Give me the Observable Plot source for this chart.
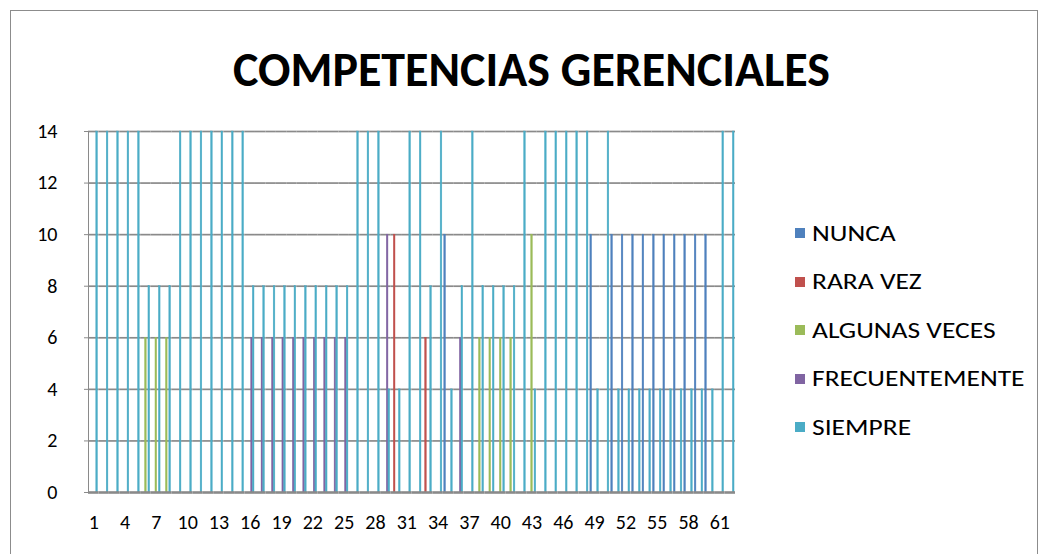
<!DOCTYPE html>
<html>
<head>
<meta charset="utf-8">
<script src="https://cdn.jsdelivr.net/npm/d3@7"></script>
<script src="https://cdn.jsdelivr.net/npm/@observablehq/plot@0.6"></script>
<style>
  html, body { margin: 0; padding: 0; background: #fff; }
  #wrap { position: relative; width: 1040px; height: 554px; overflow: hidden; font-family: Calibri, Carlito, Lato, sans-serif; }
  #border { position: absolute; left: 10px; top: 10px; width: 1026px; height: 600px; border: 1px solid #8c8c8c; }
  #title { position: absolute; left: 233px; top: 46px; font-weight: bold; font-size: 40px; white-space: nowrap; color: #000; line-height: 1; }
  #chart { position: absolute; left: 0; top: 0; }
  #chart svg text { fill: #000; }
  #legend { position: absolute; left: 795px; top: 0; font-size: 22px; color: #000; }
  .item { position: absolute; left: 0; white-space: nowrap; display: flex; align-items: center; height: 24px; }
  .sw { width: 10px; height: 10px; margin-right: 7px; flex: none; }
  .tx { display: inline-block; transform: scaleX(1.25); transform-origin: 0 50%; }
</style>
</head>
<body>
<div id="wrap">
  <div id="border"></div>
  <div id="chart"></div>
  <div id="title">COMPETENCIAS GERENCIALES</div>
  <div id="legend"></div>
</div>
<script>
const categories = [1,2,3,4,5,6,7,8,9,10,11,12,13,14,15,16,17,18,19,20,21,22,23,24,25,26,27,28,29,30,31,32,33,34,35,36,37,38,39,40,41,42,43,44,45,46,47,48,49,50,51,52,53,54,55,56,57,58,59,60,61,62];
const series = ["NUNCA", "RARA VEZ", "ALGUNAS VECES", "FRECUENTEMENTE", "SIEMPRE"];
const colors = ["#4F81BD", "#C0504D", "#9BBB59", "#8064A2", "#4BACC6"];
const xTickLabels = [1,4,7,10,13,16,19,22,25,28,31,34,37,40,43,46,49,52,55,58,61];
const yTicks = [0,2,4,6,8,10,12,14];

const nunca = [
  0,0,0,0,0,0,0,0,0,0,
  0,0,0,0,0,0,0,0,0,0,
  0,0,0,0,0,0,0,0,0,0,
  0,0,0,0,10,0,0,0,0,0,
  0,0,0,0,0,0,0,0,10,0,
  10,10,10,10,10,10,10,10,10,10,
  0,0];
const raraVez = [
  0,0,0,0,0,0,0,0,0,0,
  0,0,0,0,0,0,0,0,0,0,
  0,0,0,0,0,0,0,0,0,10,
  0,0,6,0,0,0,0,0,0,0,
  0,0,0,0,0,0,0,0,0,0,
  0,0,0,0,0,0,0,0,0,0,
  0,0];
const algunasVeces = [
  0,0,0,0,0,6,6,6,0,0,
  0,0,0,0,0,0,0,0,0,0,
  0,0,0,0,0,0,0,0,0,0,
  0,0,0,0,0,0,0,6,6,6,
  6,0,10,0,0,0,0,0,0,0,
  0,0,0,0,0,0,0,0,0,0,
  0,0];
const frecuentemente = [
  0,0,0,0,0,0,0,0,0,0,
  0,0,0,0,0,6,6,6,6,6,
  6,6,6,6,6,0,0,0,10,0,
  0,0,0,0,0,6,0,0,0,0,
  0,0,0,0,0,0,0,0,0,0,
  0,0,0,0,0,0,0,0,0,0,
  0,0];
const siempre = [
  14,14,14,14,14,8,8,8,14,14,
  14,14,14,14,14,8,8,8,8,8,
  8,8,8,8,8,14,14,14,4,4,
  14,14,8,14,4,8,14,8,8,8,
  8,14,4,14,14,14,14,14,4,14,
  4,4,4,4,4,4,4,4,4,4,
  14,14];

const values = [nunca, raraVez, algunasVeces, frecuentemente, siempre];
const data = categories.flatMap((c, i) => series.map((s, j) => ({cat: c, serie: s, value: values[j][i]})))
  .filter(d => d.value > 0);

const chart = Plot.plot({
  width: 1040,
  height: 554,
  marginLeft: 88,
  marginRight: 305,
  marginTop: 131,
  marginBottom: 62,
  style: {fontFamily: "Calibri, Carlito, Lato, sans-serif", fontSize: "20px", color: "#8a8a8a", background: "transparent", overflow: "visible"},
  fx: {domain: categories, padding: 0, round: false, label: null, tickSize: 0, tickPadding: 22,
       tickFormat: d => xTickLabels.includes(d) ? String(d) : ""},
  x: {domain: series, paddingInner: 0, paddingOuter: 0.57, round: false, axis: null},
  y: {domain: [0, 14], ticks: yTicks, label: null, tickSize: 4, tickPadding: 27, line: true},
  color: {domain: series, range: colors},
  marks: [
    Plot.ruleY(yTicks.filter(t => t > 0), {y: d => d, stroke: "#8a8a8a", strokeWidth: 1.7}),
    Plot.barY(data, {fx: "cat", x: "serie", y: "value", fill: "serie", stroke: "serie", strokeWidth: 0.4}),
    Plot.ruleY([0], {stroke: "#8a8a8a", strokeWidth: 2.6})
  ]
});
document.getElementById("chart").appendChild(chart);

// title fitted to the reference width
const title = document.getElementById("title");
const w = title.getBoundingClientRect().width;
title.style.fontSize = (40 * 597 / w) + "px";

// legend
const legend = document.getElementById("legend");
const legendY = [233, 281.5, 330, 378.5, 427];
series.forEach((s, i) => {
  const it = document.createElement("div");
  it.className = "item";
  it.style.top = (legendY[i] - 12) + "px";
  const sw = document.createElement("span");
  sw.className = "sw";
  sw.style.background = colors[i];
  const tx = document.createElement("span");
  tx.className = "tx";
  tx.textContent = s;
  it.appendChild(sw); it.appendChild(tx);
  legend.appendChild(it);
});
</script>
</body>
</html>
